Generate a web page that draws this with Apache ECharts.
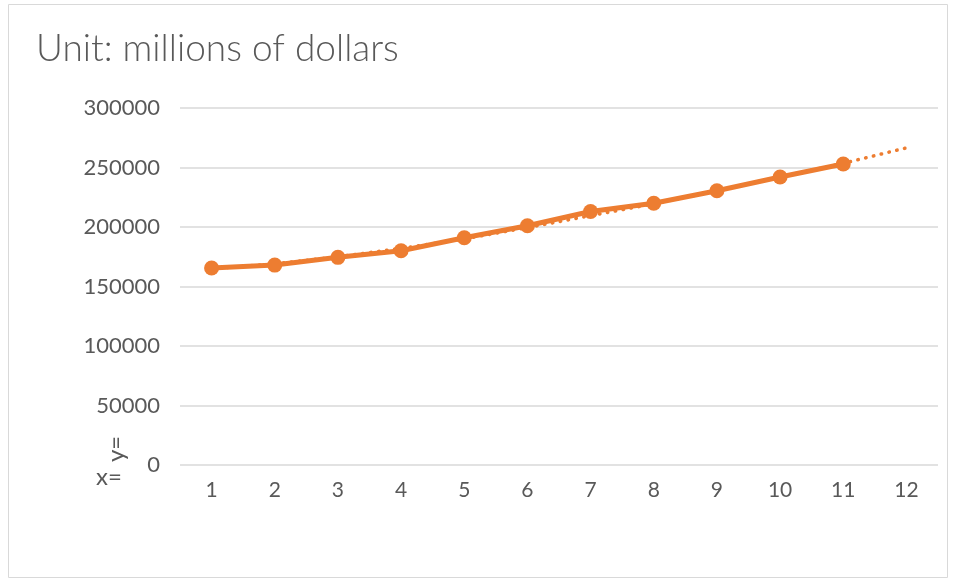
<!DOCTYPE html>
<html><head><meta charset="utf-8">
<script src="https://cdn.jsdelivr.net/npm/echarts@6/dist/echarts.min.js"></script>
<style>html,body{margin:0;padding:0;background:#fff}#c{width:956px;height:581px}</style>
</head><body><div id="c"></div>
<script>
const categories = ['1','2','3','4','5','6','7','8','9','10','11','12'];
const values = [165500, 168000, 174500, 180000, 191000, 201000, 213000, 220000, 230500, 242000, 253000, null];
const trend = [165000, 169000, 175000, 182000, 190000, 199500, 209500, 219500, 230500, 242000, 253500, 266500];
const yTicks = ['0','50000','100000','150000','200000','250000','300000'];
const titleText = 'Unit: millions of dollars';

const chart = echarts.init(document.getElementById('c'));
const labelColor = '#595959';
chart.setOption({
  animation: false,
  title: { text: titleText, left: 31, top: 26, textStyle: { fontFamily: 'Lato', fontWeight: 300, fontSize: 37, color: labelColor } },
  grid: { left: 180, right: 18, top: 108, bottom: 116 },
  xAxis: {
    type: 'category', data: categories, boundaryGap: true,
    axisLine: { show: false }, axisTick: { show: false },
    axisLabel: { color: labelColor, fontSize: 21, fontFamily: 'Lato', margin: 15 }
  },
  yAxis: {
    type: 'value', min: 0, max: 300000, interval: 50000,
    axisLine: { show: false }, axisTick: { show: false },
    axisLabel: { color: labelColor, fontSize: 22, fontFamily: 'Lato', margin: 20,
      formatter: (v) => yTicks[Math.round(v / 50000)] },
    splitLine: { lineStyle: { color: '#d9d9d9', width: 1.5 } }
  },
  graphic: [
    { type: 'rect', shape: { x: 8.5, y: 4.5, width: 939, height: 573 }, style: { fill: 'none', stroke: '#d9d9d9', lineWidth: 1 }, silent: true },
    { type: 'text', left: 96, top: 465, style: { text: 'x=', fontSize: 24, fontFamily: 'Lato', fill: labelColor } },
    { type: 'text', x: 104, y: 462, rotation: Math.PI / 2, style: { text: 'y=', fontSize: 24, fontFamily: 'Lato', fill: labelColor } }
  ],
  series: [
    { type: 'line', data: trend, symbol: 'none', z: 1,
      lineStyle: { color: '#ED7D31', width: 3.5, type: [0.5, 7.5], cap: 'round' } },
    { type: 'line', data: values, symbol: 'circle', symbolSize: 15, z: 2,
      itemStyle: { color: '#ED7D31' },
      lineStyle: { color: '#ED7D31', width: 5 } }
  ]
});
</script></body></html>
